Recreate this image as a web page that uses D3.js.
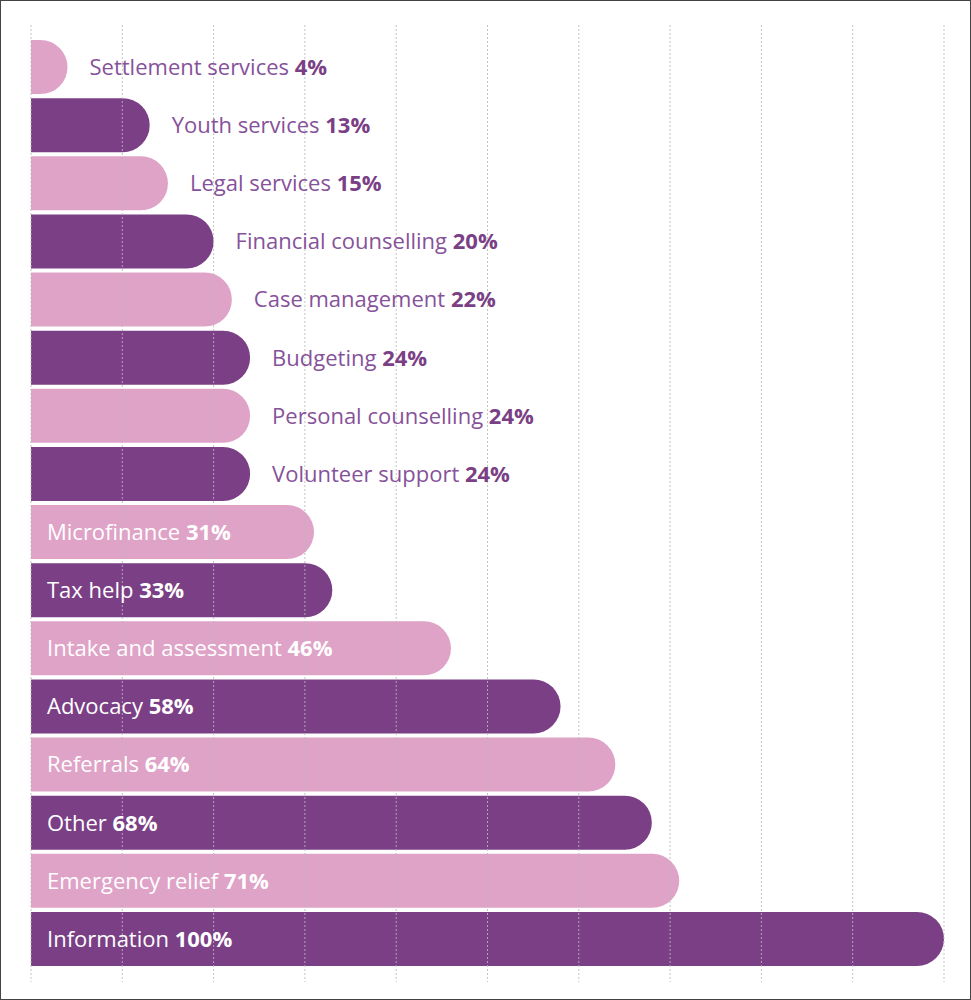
<!DOCTYPE html>
<html><head><meta charset="utf-8">
<script src="https://cdn.jsdelivr.net/npm/d3@7"></script>
<style>html,body{margin:0;padding:0;background:#fff}svg{display:block}</style>
</head><body>
<script>
const categories = ["Settlement services","Youth services","Legal services","Financial counselling","Case management","Budgeting","Personal counselling","Volunteer support","Microfinance","Tax help","Intake and assessment","Advocacy","Referrals","Other","Emergency relief","Information"];
const values = [4,13,15,20,22,24,24,24,31,33,46,58,64,68,71,100];
const gridTicks = [0,10,20,30,40,50,60,70,80,90,100];
const insideThreshold = 30;

const W = 971, H = 1000;
const svg = d3.select("body").append("svg").attr("width", W).attr("height", H);
svg.append("rect").attr("x",0.5).attr("y",0.5).attr("width",W-1).attr("height",H-1)
  .attr("fill","#fff").attr("stroke","#444").attr("stroke-width",1);

const x = d3.scaleLinear().domain([0,100]).range([31,944]);
const y = d3.scaleBand().domain(categories).range([38,968]).paddingInner(0.07).paddingOuter(0.035);
const colors = ["#dfa3c7","#7b3f86"];
const data = categories.map((c,i)=>({c, v:values[i], i}));

function barPath(d){
  const x0 = x(0), x1 = x(d.v), y0 = y(d.c), h = y.bandwidth(), r = Math.min(h/2, x1-x0);
  return `M${x0},${y0}H${x1-r}A${r},${h/2} 0 0 1 ${x1},${y0+h/2}A${r},${h/2} 0 0 1 ${x1-r},${y0+h}H${x0}Z`;
}
svg.append("g").selectAll("path").data(data).join("path")
  .attr("d", barPath).attr("fill", d=>colors[d.i%2]);

svg.append("g").selectAll("line").data(gridTicks).join("line")
  .attr("x1",d=>x(d)).attr("x2",d=>x(d)).attr("y1",25).attr("y2",982)
  .attr("stroke","#b9b9b9").attr("stroke-opacity",0.85).attr("stroke-width",1)
  .attr("stroke-dasharray","2,2");

const font = "'Open Sans', Lato, sans-serif";
const labels = svg.append("g").selectAll("text").data(data).join("text")
  .attr("x", d => d.v > insideThreshold ? 47 : x(d.v) + 22)
  .attr("y", d => y(d.c) + y.bandwidth()/2)
  .attr("dy","0.36em")
  .attr("font-family", font).attr("font-size", 22);
labels.append("tspan").text(d=>d.c + " ")
  .attr("fill", d => d.v > insideThreshold ? "#fff" : "#86529a");
labels.append("tspan").text(d=>d.v + "%").attr("font-weight","bold")
  .attr("fill", d => d.v > insideThreshold ? "#fff" : "#7b3f86");
</script>
</body></html>
